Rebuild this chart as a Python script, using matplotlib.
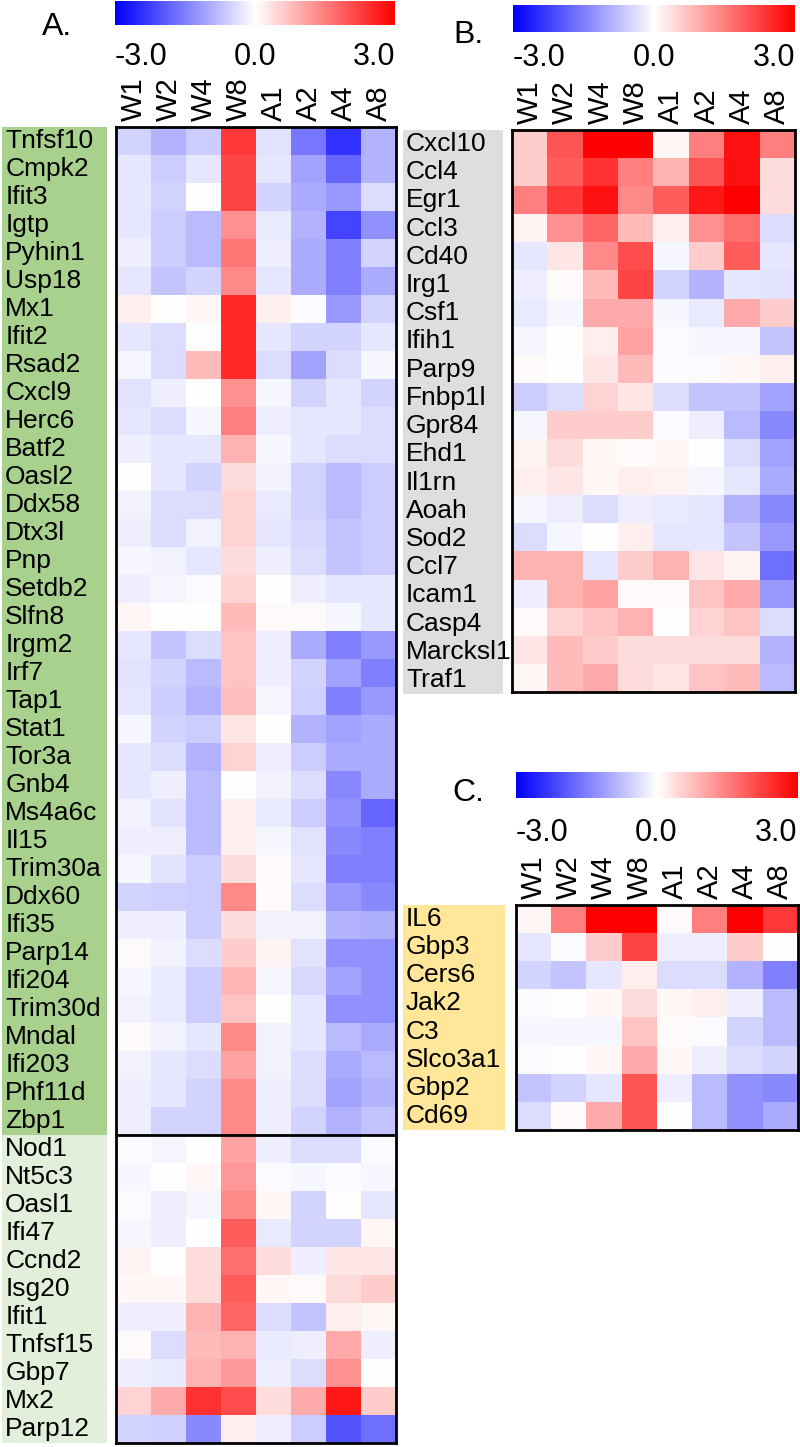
import numpy as np
import matplotlib
matplotlib.use('Agg')
import matplotlib.pyplot as plt

plt.rcParams['font.family'] = ['Liberation Sans', 'DejaVu Sans']

cols = ['W1', 'W2', 'W4', 'W8', 'A1', 'A2', 'A4', 'A8']

# Panel A
genes_a = ['Tnfsf10', 'Cmpk2', 'Ifit3', 'Igtp', 'Pyhin1', 'Usp18', 'Mx1', 'Ifit2',
           'Rsad2', 'Cxcl9', 'Herc6', 'Batf2', 'Oasl2', 'Ddx58', 'Dtx3l', 'Pnp',
           'Setdb2', 'Slfn8', 'Irgm2', 'Irf7', 'Tap1', 'Stat1', 'Tor3a', 'Gnb4',
           'Ms4a6c', 'Il15', 'Trim30a', 'Ddx60', 'Ifi35', 'Parp14', 'Ifi204',
           'Trim30d', 'Mndal', 'Ifi203', 'Phf11d', 'Zbp1',
           'Nod1', 'Nt5c3', 'Oasl1', 'Ifi47', 'Ccnd2', 'Isg20', 'Ifit1', 'Tnfsf15',
           'Gbp7', 'Mx2', 'Parp12']
n_top_a = 36
vals_a = [
    [-0.5, -0.9, -0.6, 2.3, -0.35, -1.6, -2.4, -0.9],
    [-0.3, -0.6, -0.3, 2.2, -0.3, -1.1, -1.8, -0.9],
    [-0.3, -0.5, 0.0, 2.2, -0.5, -1.0, -1.2, -0.4],
    [-0.3, -0.6, -0.8, 1.3, -0.25, -0.9, -2.2, -1.3],
    [-0.2, -0.6, -0.8, 1.6, -0.2, -1.0, -1.5, -0.5],
    [-0.3, -0.7, -0.5, 1.4, -0.3, -1.0, -1.5, -1.0],
    [0.2, 0.0, 0.1, 2.5, 0.2, -0.05, -1.2, -0.5],
    [-0.3, -0.4, 0.0, 2.5, -0.3, -0.5, -0.5, -0.3],
    [-0.1, -0.4, 0.8, 2.5, -0.4, -1.1, -0.4, -0.1],
    [-0.35, -0.2, 0.0, 1.3, -0.1, -0.5, -0.3, -0.5],
    [-0.3, -0.4, -0.1, 1.5, -0.2, -0.3, -0.3, -0.4],
    [-0.2, -0.3, -0.3, 0.9, -0.1, -0.3, -0.4, -0.4],
    [0.0, -0.3, -0.5, 0.4, -0.15, -0.5, -0.8, -0.6],
    [-0.15, -0.4, -0.4, 0.5, -0.25, -0.5, -0.8, -0.6],
    [-0.2, -0.4, -0.15, 0.5, -0.3, -0.45, -0.7, -0.6],
    [-0.1, -0.15, -0.3, 0.4, -0.2, -0.4, -0.7, -0.6],
    [-0.2, -0.1, -0.05, 0.5, 0.0, -0.2, -0.3, -0.3],
    [0.1, 0.0, 0.0, 0.8, 0.05, 0.05, -0.1, -0.3],
    [-0.3, -0.7, -0.4, 0.7, -0.2, -1.0, -1.5, -1.2],
    [-0.35, -0.5, -0.8, 0.7, -0.2, -0.5, -1.1, -1.5],
    [-0.3, -0.6, -0.9, 0.75, -0.1, -0.55, -1.5, -1.2],
    [-0.1, -0.5, -0.6, 0.3, 0.0, -0.9, -1.1, -1.0],
    [-0.3, -0.4, -0.9, 0.5, -0.2, -0.6, -1.0, -1.0],
    [-0.3, -0.2, -0.8, 0.0, -0.15, -0.4, -1.4, -1.0],
    [-0.15, -0.35, -0.8, 0.2, -0.25, -0.6, -1.3, -1.8],
    [-0.2, -0.2, -0.8, 0.2, -0.1, -0.35, -1.4, -1.5],
    [-0.1, -0.35, -0.6, 0.4, 0.05, -0.3, -1.5, -1.5],
    [-0.5, -0.55, -0.6, 1.4, 0.05, -0.4, -1.2, -1.4],
    [-0.2, -0.2, -0.6, 0.4, -0.15, -0.15, -0.9, -0.95],
    [0.05, -0.15, -0.4, 0.6, 0.15, -0.35, -1.3, -1.3],
    [-0.1, -0.25, -0.6, 0.85, -0.1, -0.45, -1.1, -1.3],
    [-0.15, -0.25, -0.6, 0.7, 0.0, -0.3, -1.3, -1.3],
    [0.05, -0.15, -0.3, 1.4, -0.15, -0.3, -0.8, -1.0],
    [-0.15, -0.3, -0.4, 1.1, -0.15, -0.4, -1.0, -0.8],
    [-0.2, -0.3, -0.5, 1.4, -0.2, -0.4, -1.1, -0.9],
    [-0.2, -0.5, -0.5, 1.4, -0.2, -0.5, -0.9, -0.7],
    [-0.05, -0.1, 0.0, 1.1, -0.2, -0.4, -0.4, -0.05],
    [-0.1, 0.0, 0.1, 1.2, -0.05, -0.1, -0.05, -0.1],
    [-0.05, -0.2, -0.1, 1.4, 0.1, -0.5, 0.0, -0.3],
    [-0.1, -0.2, 0.0, 1.9, -0.25, -0.5, -0.5, 0.1],
    [0.15, 0.0, 0.4, 1.7, 0.4, -0.2, 0.3, 0.3],
    [0.1, 0.1, 0.4, 1.9, 0.1, 0.05, 0.4, 0.6],
    [-0.2, -0.2, 0.9, 1.8, -0.4, -0.7, 0.2, 0.1],
    [0.05, -0.4, 0.8, 0.9, -0.25, -0.2, 1.0, -0.2],
    [-0.2, -0.25, 0.9, 1.2, -0.2, -0.4, 1.3, 0.0],
    [0.5, 1.0, 2.4, 2.1, 0.4, 1.0, 2.7, 0.6],
    [-0.5, -0.55, -1.4, 0.2, -0.2, -0.6, -2.0, -1.7],
]

# Panel B
genes_b = ['Cxcl10', 'Ccl4', 'Egr1', 'Ccl3', 'Cd40', 'Irg1', 'Csf1', 'Ifih1', 'Parp9',
           'Fnbp1l', 'Gpr84', 'Ehd1', 'Il1rn', 'Aoah', 'Sod2', 'Ccl7', 'Icam1',
           'Casp4', 'Marcksl1', 'Traf1']
vals_b = [
    [0.6, 2.0, 3.0, 3.0, 0.1, 1.5, 2.8, 1.5],
    [0.6, 1.9, 2.4, 1.5, 0.9, 2.0, 2.8, 0.4],
    [1.5, 2.3, 2.8, 1.4, 1.9, 2.7, 3.0, 0.4],
    [0.15, 1.3, 1.8, 0.8, 0.2, 1.3, 1.7, -0.4],
    [-0.3, 0.3, 1.4, 2.1, -0.1, 0.6, 1.9, -0.3],
    [-0.2, 0.05, 0.8, 2.2, -0.5, -0.9, -0.3, -0.35],
    [-0.25, -0.1, 1.0, 1.0, -0.1, -0.25, 1.0, 0.6],
    [-0.1, 0.0, 0.2, 1.1, -0.05, -0.1, -0.1, -0.7],
    [0.05, 0.0, 0.3, 0.8, -0.05, -0.05, 0.1, 0.2],
    [-0.6, -0.4, 0.5, 0.3, -0.4, -0.7, -0.7, -1.1],
    [-0.1, 0.6, 0.6, 0.6, -0.05, -0.2, -0.8, -1.4],
    [0.15, 0.4, 0.1, 0.05, 0.1, 0.0, -0.4, -1.1],
    [0.2, 0.3, 0.1, 0.2, 0.15, -0.1, -0.3, -1.0],
    [-0.1, -0.2, -0.4, -0.2, -0.25, -0.3, -0.9, -1.4],
    [-0.4, -0.1, 0.0, 0.2, -0.3, -0.3, -0.7, -1.2],
    [0.9, 0.9, -0.3, 0.6, 0.9, 0.3, 0.15, -1.7],
    [-0.2, 0.9, 1.1, 0.05, 0.05, 0.7, 1.0, -1.2],
    [0.05, 0.5, 0.7, 0.9, 0.0, 0.5, 0.7, -0.4],
    [0.3, 0.8, 0.6, 0.4, 0.4, 0.4, 0.4, -0.9],
    [0.1, 0.8, 1.0, 0.4, 0.3, 0.7, 0.8, -0.8],
]

# Panel C
genes_c = ['IL6', 'Gbp3', 'Cers6', 'Jak2', 'C3', 'Slco3a1', 'Gbp2', 'Cd69']
vals_c = [
    [0.1, 1.5, 3.0, 3.0, 0.05, 1.5, 3.0, 2.3],
    [-0.3, -0.05, 0.6, 2.2, -0.2, -0.2, 0.6, 0.0],
    [-0.5, -0.7, -0.3, 0.2, -0.4, -0.4, -0.9, -1.5],
    [-0.05, 0.0, 0.1, 0.4, 0.1, 0.2, -0.2, -0.8],
    [-0.1, -0.1, -0.1, 0.7, 0.05, -0.05, -0.5, -0.8],
    [-0.05, 0.0, 0.1, 1.0, 0.1, -0.2, -0.4, -0.5],
    [-0.7, -0.5, -0.3, 2.0, -0.2, -0.8, -1.3, -1.4],
    [-0.4, 0.05, 1.0, 2.0, 0.0, -0.8, -1.3, -1.0],
]

W, H = 800, 1447
fig = plt.figure(figsize=(W / 100, H / 100), dpi=100)


def box(x0, y0, x1, y1):
    return [x0 / W, 1 - y1 / H, (x1 - x0) / W, (y1 - y0) / H]


def colorbar(x0, y0, x1, y1, ty):
    ax = fig.add_axes(box(x0, y0, x1, y1))
    ax.imshow(np.linspace(-3, 3, 256).reshape(1, -1), cmap='bwr', aspect='auto',
              vmin=-3, vmax=3)
    ax.axis('off')
    fig.text(x0 / W, 1 - ty / H, '-3.0', ha='left', va='center', fontsize=22)
    fig.text((x0 + x1) / 2 / W, 1 - ty / H, '0.0', ha='center', va='center', fontsize=22)
    fig.text(x1 / W, 1 - ty / H, '3.0', ha='right', va='center', fontsize=22)


def heatmap(hbox, lbox, genes, vals, spans):
    n = len(genes)
    ax = fig.add_axes(box(*hbox))
    ax.imshow(np.array(vals), cmap='bwr', vmin=-3, vmax=3, aspect='auto',
              interpolation='nearest')
    ax.xaxis.tick_top()
    ax.set_xticks(range(len(cols)))
    ax.set_xticklabels(cols, rotation=90, fontsize=21)
    ax.set_yticks([])
    ax.tick_params(axis='x', length=0, pad=4)
    for s in ax.spines.values():
        s.set_linewidth(2)
    lab = fig.add_axes(box(*lbox))
    lab.set_xlim(0, 1)
    lab.set_ylim(n - 0.5, -0.5)
    for a, b, c in spans:
        lab.axhspan(a - 0.5, b - 0.5, color=c, lw=0)
    for i, g in enumerate(genes):
        lab.text(0.03, i, g, ha='left', va='center', fontsize=19)
    lab.axis('off')
    return ax


# A
colorbar(115, 1, 395, 25, 57)
fig.text(57 / W, 1 - 27 / H, 'A.', ha='center', va='center', fontsize=23)
ax_a = heatmap((116, 127, 396, 1443), (2, 127, 107, 1443), genes_a, vals_a,
               [(0, n_top_a, '#a9d18e'), (n_top_a, len(genes_a), '#e2efda')])
ax_a.axhline(n_top_a - 0.5, color='black', lw=2)

# B
colorbar(513, 5, 795, 32, 58)
fig.text(468 / W, 1 - 35 / H, 'B.', ha='center', va='center', fontsize=23)
heatmap((512, 130, 795, 692), (403, 130, 503, 694), genes_b, vals_b,
        [(0, len(genes_b), '#dedede')])

# C
colorbar(516, 772, 797, 798, 833)
fig.text(468 / W, 1 - 793 / H, 'C.', ha='center', va='center', fontsize=23)
heatmap((516, 905, 798, 1130), (403, 905, 505, 1130), genes_c, vals_c,
        [(0, len(genes_c), '#ffe699')])

fig.savefig('out.png', dpi=100)
